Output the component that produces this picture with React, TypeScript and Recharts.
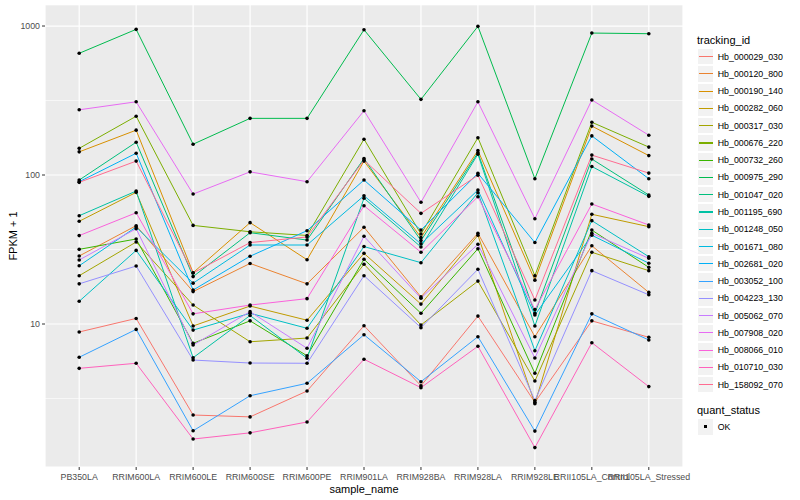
import { LineChart, Line, XAxis, YAxis, CartesianGrid } from "recharts";

const samples = [
  "PB350LA",
  "RRIM600LA",
  "RRIM600LE",
  "RRIM600SE",
  "RRIM600PE",
  "RRIM901LA",
  "RRIM928BA",
  "RRIM928LA",
  "RRIM928LE",
  "RRII105LA_Control",
  "RRII105LA_Stressed",
];

// FPKM + 1 per tracking id, in sample order
const hb000029_030 = [8.84, 10.9, 2.45, 2.38, 3.55, 9.74, 3.85, 11.3, 2.98, 10.5, 8.14];
const hb000120_800 = [28.6, 45.7, 16.5, 25.5, 18.6, 44.6, 15.2, 40.6, 8.22, 33.5, 16.3];
const hb000190_140 = [143, 200, 22.1, 47.9, 27.0, 124, 38.1, 146, 19.7, 213, 135];
const hb000282_060 = [48.9, 76.5, 9.7, 13.2, 10.6, 29.8, 13.6, 39.4, 2.92, 54.5, 45.0];
const hb000317_030 = [21.1, 35.5, 13.4, 7.6, 8.05, 25.2, 9.85, 19.4, 4.14, 30.3, 22.8];
const hb000676_220 = [151, 248, 45.9, 41.6, 39.3, 174, 40.2, 178, 21.1, 226, 154];
const hb000732_260 = [31.7, 37.2, 7.42, 10.5, 6.12, 27.2, 11.8, 32.0, 4.67, 42.7, 24.0];
const hb000975_290 = [656, 950, 161, 240, 240, 944, 322, 995, 94.4, 897, 888];
const hb001047_020 = [92.5, 166, 20.8, 41.0, 36.6, 129, 36.3, 141, 11.8, 128, 73.4];
const hb001195_690 = [53.3, 78, 5.94, 11.4, 5.9, 69.8, 32.9, 138, 9.7, 114, 71.9];
const hb001248_050 = [14.2, 31.2, 9.1, 11.8, 9.36, 33.1, 25.8, 76.1, 6.62, 49.4, 28.3];
const hb001671_080 = [24.6, 44.8, 18.8, 33.9, 33.9, 72.6, 34.5, 79.3, 11.5, 39.4, 25.6];
const hb002681_020 = [90.2, 140, 16.9, 28.5, 42.3, 92.5, 42.7, 102.6, 35.2, 183, 94.4];
const hb003052_100 = [5.98, 9.2, 1.92, 3.3, 4.0, 8.47, 4.1, 8.22, 1.91, 11.7, 7.81];
const hb004223_130 = [18.6, 24.5, 5.73, 5.47, 5.45, 21.1, 9.45, 23.3, 3.06, 22.8, 15.7];
const hb005062_070 = [26.9, 43.6, 7.23, 12.1, 6.87, 38.8, 14.9, 34.3, 5.91, 40.6, 27.6];
const hb007908_020 = [274, 310, 74.5, 105, 90.2, 270, 65.6, 310, 50.9, 319, 185];
const hb008066_010 = [39.2, 55.8, 11.7, 13.4, 14.8, 62.2, 30.3, 71.5, 12.5, 63.9, 46.2];
const hb010710_030 = [5.04, 5.45, 1.69, 1.86, 2.2, 5.8, 3.74, 7.09, 1.48, 7.49, 3.8];
const hb158092_070 = [89.3, 124, 22.0, 35.2, 38.4, 126, 55.3, 99.7, 14.5, 136, 103];

const series = [
  { id: "Hb_000029_030", values: hb000029_030, color: "#F8766D" },
  { id: "Hb_000120_800", values: hb000120_800, color: "#EA8331" },
  { id: "Hb_000190_140", values: hb000190_140, color: "#D89000" },
  { id: "Hb_000282_060", values: hb000282_060, color: "#C09B00" },
  { id: "Hb_000317_030", values: hb000317_030, color: "#A3A500" },
  { id: "Hb_000676_220", values: hb000676_220, color: "#7CAE00" },
  { id: "Hb_000732_260", values: hb000732_260, color: "#39B600" },
  { id: "Hb_000975_290", values: hb000975_290, color: "#00BB4E" },
  { id: "Hb_001047_020", values: hb001047_020, color: "#00BF7D" },
  { id: "Hb_001195_690", values: hb001195_690, color: "#00C1A3" },
  { id: "Hb_001248_050", values: hb001248_050, color: "#00BFC4" },
  { id: "Hb_001671_080", values: hb001671_080, color: "#00BAE0" },
  { id: "Hb_002681_020", values: hb002681_020, color: "#00B0F6" },
  { id: "Hb_003052_100", values: hb003052_100, color: "#35A2FF" },
  { id: "Hb_004223_130", values: hb004223_130, color: "#9590FF" },
  { id: "Hb_005062_070", values: hb005062_070, color: "#C77CFF" },
  { id: "Hb_007908_020", values: hb007908_020, color: "#E76BF3" },
  { id: "Hb_008066_010", values: hb008066_010, color: "#FA62DB" },
  { id: "Hb_010710_030", values: hb010710_030, color: "#FF62BC" },
  { id: "Hb_158092_070", values: hb158092_070, color: "#FF6C91" },
];

const yTicks = [3.1623, 10, 31.623, 100, 316.23, 1000];
const yLabels = [10, 100, 1000];

const data = samples.map((name, i) => {
  const row: any = { sample_name: name };
  series.forEach((s) => {
    row[s.id] = s.values[i];
  });
  return row;
});

const font = "'Liberation Sans', Arial, Helvetica, sans-serif";

const renderYTick = (props: any) => {
  const { x, y, payload } = props;
  if (!yLabels.includes(payload.value)) return <g />;
  return (
    <g>
      <line x1={x + 2} x2={x + 5} y1={y} y2={y} stroke="#333333" strokeWidth={1} />
      <text x={x} y={y} dy="0.355em" textAnchor="end" fontSize={8.8} fill="#4D4D4D" fontFamily={font}>
        {payload.value}
      </text>
    </g>
  );
};

const renderHLine = (props: any) => {
  const { x1, x2, y1, y2, index } = props;
  const minor = index % 2 === 0;
  return (
    <line
      key={`h-${index}`}
      x1={x1}
      x2={x2}
      y1={y1}
      y2={y2}
      stroke="#FFFFFF"
      strokeWidth={minor ? 0.6 : 1.2}
    />
  );
};

const renderVLine = (props: any) => {
  const { x1, x2, y1, y2, index } = props;
  return <line key={`v-${index}`} x1={x1} x2={x2} y1={y1} y2={y2} stroke="#FFFFFF" strokeWidth={1.2} />;
};

const Legend = () => (
  <div style={{ position: "absolute", left: 697, top: 32, fontFamily: font, color: "#000" }}>
    <div style={{ fontSize: 11, height: 16, lineHeight: "16px" }}>tracking_id</div>
    {series.map((s) => (
      <div key={s.id} style={{ display: "flex", alignItems: "center", height: 17.28 }}>
        <div
          style={{
            width: 17.28,
            height: 17.28,
            boxSizing: "border-box",
            background: "#F2F2F2",
            border: "0.5px solid #FFFFFF",
            display: "flex",
            alignItems: "center",
            justifyContent: "center",
          }}
        >
          <div style={{ width: 13.8, height: 1.1, background: s.color }} />
        </div>
        <span style={{ fontSize: 8.8, marginLeft: 3.5, whiteSpace: "nowrap" }}>{s.id}</span>
      </div>
    ))}
    <div style={{ fontSize: 11, height: 16, lineHeight: "16px", marginTop: 9 }}>quant_status</div>
    <div style={{ display: "flex", alignItems: "center", height: 17.28 }}>
      <div
        style={{
          width: 17.28,
          height: 17.28,
          boxSizing: "border-box",
          background: "#F2F2F2",
          border: "0.5px solid #FFFFFF",
          display: "flex",
          alignItems: "center",
          justifyContent: "center",
        }}
      >
        <div style={{ width: 3, height: 3, background: "#000" }} />
      </div>
      <span style={{ fontSize: 8.8, marginLeft: 3.5 }}>OK</span>
    </div>
  </div>
);

const App = () => {
  return (
    <div style={{ position: "absolute", left: 0, top: 0, width: 800, height: 500, background: "#FFFFFF" }}>
      <LineChart width={800} height={500} data={data} margin={{ top: 5, right: 117, bottom: 0, left: 0 }}>
        <CartesianGrid fill="#EBEBEB" stroke="#FFFFFF" horizontal={renderHLine} vertical={renderVLine} />
        <XAxis
          dataKey="sample_name"
          type="category"
          padding={{ left: 34.2, right: 34.2 }}
          height={33}
          interval={0}
          tickSize={3}
          tickMargin={3.5}
          axisLine={false}
          tickLine={{ stroke: "#333333" }}
          tick={{ fill: "#4D4D4D", fontSize: 8.8, fontFamily: font }}
        />
        <YAxis
          scale="log"
          domain={[1.097, 1384]}
          allowDataOverflow
          ticks={yTicks}
          width={45}
          tickSize={3}
          tickMargin={2}
          axisLine={false}
          tickLine={false}
          tick={renderYTick}
        />
        {series.map((s) => (
          <Line
            key={s.id}
            dataKey={s.id}
            stroke={s.color}
            strokeWidth={1}
            dot={false}
            activeDot={false}
            isAnimationActive={false}
          />
        ))}
        {series.map((s) => (
          <Line
            key={`${s.id}-pt`}
            dataKey={s.id}
            stroke="none"
            dot={{ r: 1.8, fill: "#000000", stroke: "none" }}
            activeDot={false}
            legendType="none"
            isAnimationActive={false}
          />
        ))}
      </LineChart>
      <div
        style={{
          position: "absolute",
          left: 13,
          top: 236,
          transform: "translate(-50%, -50%) rotate(-90deg)",
          fontFamily: font,
          fontSize: 11,
          whiteSpace: "nowrap",
        }}
      >
        FPKM + 1
      </div>
      <div
        style={{
          position: "absolute",
          left: 364,
          top: 489,
          transform: "translate(-50%, -50%)",
          fontFamily: font,
          fontSize: 11,
          whiteSpace: "nowrap",
        }}
      >
        sample_name
      </div>
      <Legend />
    </div>
  );
};

export default App;
